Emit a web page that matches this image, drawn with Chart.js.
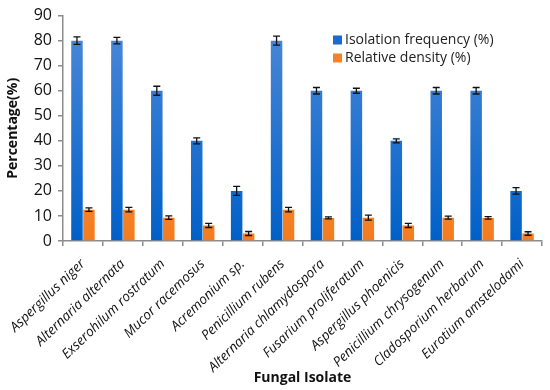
<!DOCTYPE html>
<html>
<head>
<meta charset="utf-8">
<script src="https://cdn.jsdelivr.net/npm/chart.js@4.4.1/dist/chart.umd.min.js"></script>
<style>
  html, body { margin: 0; padding: 0; background: #fff; }
  #wrap { width: 550px; height: 390px; position: relative; }
</style>
</head>
<body>
<div id="wrap"><canvas id="fungiChart"></canvas></div>
<script>
// Data
const isolates = ['Aspergillus niger', 'Alternaria alternata', 'Exserohilum rostratum', 'Mucor racemosus',
    'Acremonium sp.', 'Penicillium rubens', 'Alternaria chlamydospora', 'Fusarium proliferatum',
    'Aspergillus phoenicis', 'Penicillium chrysogenum', 'Cladosporium herbarum', 'Eurotium amstelodami'];
const isolationFreq = [80, 80, 60, 40, 20, 80, 60, 60, 40, 60, 60, 20];
const isolationErr = [1.5, 1.3, 1.8, 1.2, 1.8, 1.8, 1.3, 1.0, 0.8, 1.3, 1.3, 1.3];
const relDensity = [12.5, 12.5, 9.3, 6.2, 3.0, 12.5, 9.2, 9.3, 6.2, 9.3, 9.2, 3.0];
const densityErr = [0.7, 0.9, 0.7, 0.8, 0.8, 0.9, 0.4, 1.0, 0.8, 0.6, 0.5, 0.7];
const seriesNames = ['Isolation frequency (%)', 'Relative density (%)'];
const seriesColors = ['#1c6bcf', '#f5822a'];

const FONT = "'Open Sans', 'Noto Sans', sans-serif";

function barGradient(ctx, top, bottom) {
    const area = ctx.chart.chartArea;
    if (!area) return bottom;
    const g = ctx.chart.ctx.createLinearGradient(0, area.top, 0, area.bottom);
    g.addColorStop(0, top);
    g.addColorStop(1, bottom);
    return g;
}

// error bars drawn on top of each bar
const errorBars = {
    id: 'errorBars',
    afterDatasetsDraw(chart) {
        const c = chart.ctx;
        const y = chart.scales.y;
        const errs = [isolationErr, densityErr];
        c.save();
        c.strokeStyle = '#111';
        c.lineWidth = 1.3;
        chart.data.datasets.forEach((ds, di) => {
            chart.getDatasetMeta(di).data.forEach((bar, i) => {
                const v = ds.data[i], e = errs[di][i];
                const yt = y.getPixelForValue(v + e), yb = y.getPixelForValue(v - e);
                c.beginPath();
                c.moveTo(bar.x, yt); c.lineTo(bar.x, yb);
                c.moveTo(bar.x - 3.5, yt); c.lineTo(bar.x + 3.5, yt);
                c.moveTo(bar.x - 3.5, yb); c.lineTo(bar.x + 3.5, yb);
                c.stroke();
            });
        });
        c.restore();
    }
};

// legend inside the plot, upper right
const innerLegend = {
    id: 'innerLegend',
    afterDraw(chart) {
        const c = chart.ctx;
        c.save();
        c.font = '14px ' + FONT;
        c.textBaseline = 'middle';
        seriesNames.forEach((name, i) => {
            const ly = 40 + i * 18;
            c.fillStyle = seriesColors[i];
            c.fillRect(333, ly - 4.5, 9, 9);
            c.fillStyle = '#222';
            c.fillText(name, 345, ly);
        });
        c.restore();
    }
};

new Chart(document.getElementById('fungiChart'), {
    type: 'bar',
    data: {
        labels: isolates,
        datasets: [
            {
                label: seriesNames[0],
                data: isolationFreq,
                backgroundColor: ctx => barGradient(ctx, '#4f8ad9', '#0060c8'),
                categoryPercentage: 0.6,
                barPercentage: 0.96
            },
            {
                label: seriesNames[1],
                data: relDensity,
                backgroundColor: ctx => barGradient(ctx, '#f9a457', '#f47b1f'),
                categoryPercentage: 0.6,
                barPercentage: 0.96
            }
        ]
    },
    options: {
        responsive: true,
        maintainAspectRatio: false,
        animation: false,
        layout: { padding: { top: 9, right: 8, left: 0, bottom: 0 } },
        plugins: {
            legend: { display: false },
            tooltip: { enabled: false }
        },
        scales: {
            x: {
                afterFit: s => { s.height = 149; s.paddingLeft = 0; s.paddingRight = 0; },
                grid: { drawOnChartArea: false, drawTicks: true, tickLength: 5, color: '#8c8c8c', lineWidth: 1.5 },
                border: { color: '#8c8c8c', width: 1.5 },
                ticks: {
                    minRotation: 44, maxRotation: 44, autoSkip: false, padding: 10,
                    color: '#111', font: { family: FONT, size: 13.5, style: 'italic' }
                },
                title: {
                    display: true, text: 'Fungal Isolate', color: '#111',
                    font: { family: FONT, size: 14, weight: 'bold' }, padding: { top: 0, bottom: 4 }
                }
            },
            y: {
                min: 0, max: 90,
                afterFit: s => { s.width = 63; },
                grid: { drawOnChartArea: false, drawTicks: true, tickLength: 5, color: '#8c8c8c', lineWidth: 1.5 },
                border: { color: '#8c8c8c', width: 1.5 },
                ticks: { stepSize: 10, padding: 6, color: '#111', font: { family: FONT, size: 16 } },
                title: {
                    display: true, text: 'Percentage(%)', color: '#111',
                    font: { family: FONT, size: 14, weight: 'bold' }, padding: { top: 5, bottom: 0 }
                }
            }
        }
    },
    plugins: [errorBars, innerLegend]
});
</script>
</body>
</html>
